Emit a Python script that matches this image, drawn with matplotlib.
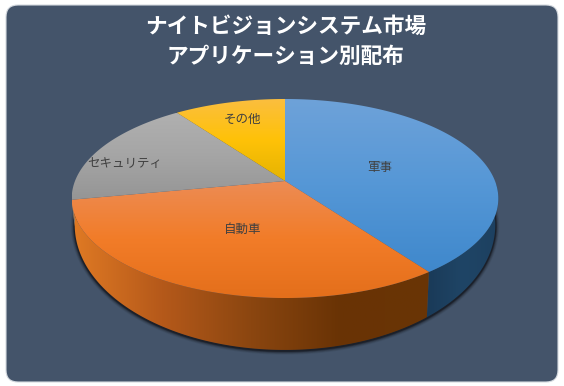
import numpy as np
import matplotlib
matplotlib.use("Agg")
import matplotlib.pyplot as plt
from matplotlib.patches import FancyBboxPatch, Polygon
from matplotlib.colors import LinearSegmentedColormap

# Data
categories = ["軍事", "自動車", "セキュリティ", "その他"]
shares = [40, 32, 18, 10]
title_lines = ["ナイトビジョンシステム市場", "アプリケーション別配布"]

# Styles
top_colors = [["#6ea2d9", "#5597d6", "#3f88cc"],
              ["#ec8c55", "#f27c28", "#e46f1b"],
              ["#b0b0b0", "#a5a5a5", "#959595"],
              ["#fbbe40", "#ffc208", "#e5b300"]]
side_colors = [["#1a3a58", "#1f4566", "#1d4060"],
               ["#e07a24", "#b5591a", "#8b4610", "#693305", "#6a3505"],
               ["#777777", "#777777"],
               ["#997000", "#997000"]]
label_xy = [(380, 167), (243, 229), (124.5, 164), (242, 119)]
title_xy = [(286, 26), (285.5, 56)]
W, H = 564, 386
CX, C = 285.0, 35 / 199
TOP = dict(d=210.0, a=-64.6, b=181.0)
BOT = dict(d=207.0, a=-85.4, b=203.0)
JP = ["Noto Sans CJK JP", "DejaVu Sans"]


def project(theta_deg, r, face):
    t = np.radians(theta_deg)
    u, v = r * np.sin(t), r * np.cos(t)
    w = 1 + C * v
    return CX + face["d"] * u / w, (face["a"] * v + face["b"]) / w


def gradient(ax, patch, colors, extent, horizontal=False, zorder=3):
    cmap = LinearSegmentedColormap.from_list("g", colors)
    g = np.linspace(0, 1, 256)
    g = g[None, :] if horizontal else g[:, None]
    im = ax.imshow(g, cmap=cmap, extent=extent, aspect="auto", zorder=zorder,
                   interpolation="bilinear")
    ax.add_patch(patch)
    patch.set_visible(False)
    im.set_clip_path(patch)


fig = plt.figure(figsize=(W / 100, H / 100), dpi=100, facecolor="white")
ax = fig.add_axes([0, 0, 1, 1])
ax.axis("off")

ax.add_patch(FancyBboxPatch((6 + 12, 5 + 12), 552 - 24, 377 - 24,
                            boxstyle="round,pad=12,rounding_size=12",
                            facecolor="#44546a", edgecolor="#d5dae0", linewidth=0.8, zorder=1))

# shadow under the disc
th = np.linspace(92, 268, 300)
sx, sy = project(th, 1, BOT)
for lw, al in [(8, 0.06), (6.5, 0.09), (5, 0.13), (3.5, 0.2), (2.2, 0.32)]:
    ax.plot(sx, sy + 0.8, color="black", lw=lw * 0.72, alpha=al, zorder=2,
            solid_capstyle="round")

edges = np.cumsum([0] + shares) / sum(shares) * 360

# sides
for i in range(len(shares)):
    lo, hi = max(edges[i], 92), min(edges[i + 1], 262)
    if hi <= lo:
        continue
    th = np.linspace(lo, hi, 200)
    xt, yt = project(th, 1, TOP)
    xb, yb = project(th, 1, BOT)
    pts = np.r_[np.c_[xt, yt], np.c_[xb, yb][::-1]]
    poly = Polygon(pts, closed=True, transform=ax.transData)
    ext = (pts[:, 0].min(), pts[:, 0].max(), pts[:, 1].max(), pts[:, 1].min())
    gradient(ax, poly, side_colors[i], ext, horizontal=True, zorder=3)

# top face
for i in range(len(shares)):
    th = np.linspace(edges[i], edges[i + 1], 300)
    xt, yt = project(th, 1, TOP)
    vx, vy = project(0.0, 0, TOP)
    pts = np.r_[[[vx, vy]], np.c_[xt, yt]]
    poly = Polygon(pts, closed=True, transform=ax.transData)
    ext = (pts[:, 0].min(), pts[:, 0].max(), pts[:, 1].max(), pts[:, 1].min())
    gradient(ax, poly, top_colors[i], ext, zorder=4)

for name, (x, y) in zip(categories, label_xy):
    ax.text(x, y, name, ha="center", va="center", fontsize=9.0, color="#404040",
            family=JP, zorder=6)

for line, (x, y) in zip(title_lines, title_xy):
    ax.text(x, y, line, ha="center", va="center", fontsize=15.6,
            fontweight="bold", color="white", family=JP, zorder=6)

ax.set_xlim(0, W)
ax.set_ylim(H, 0)
fig.savefig("out.png", dpi=100, facecolor="white")
